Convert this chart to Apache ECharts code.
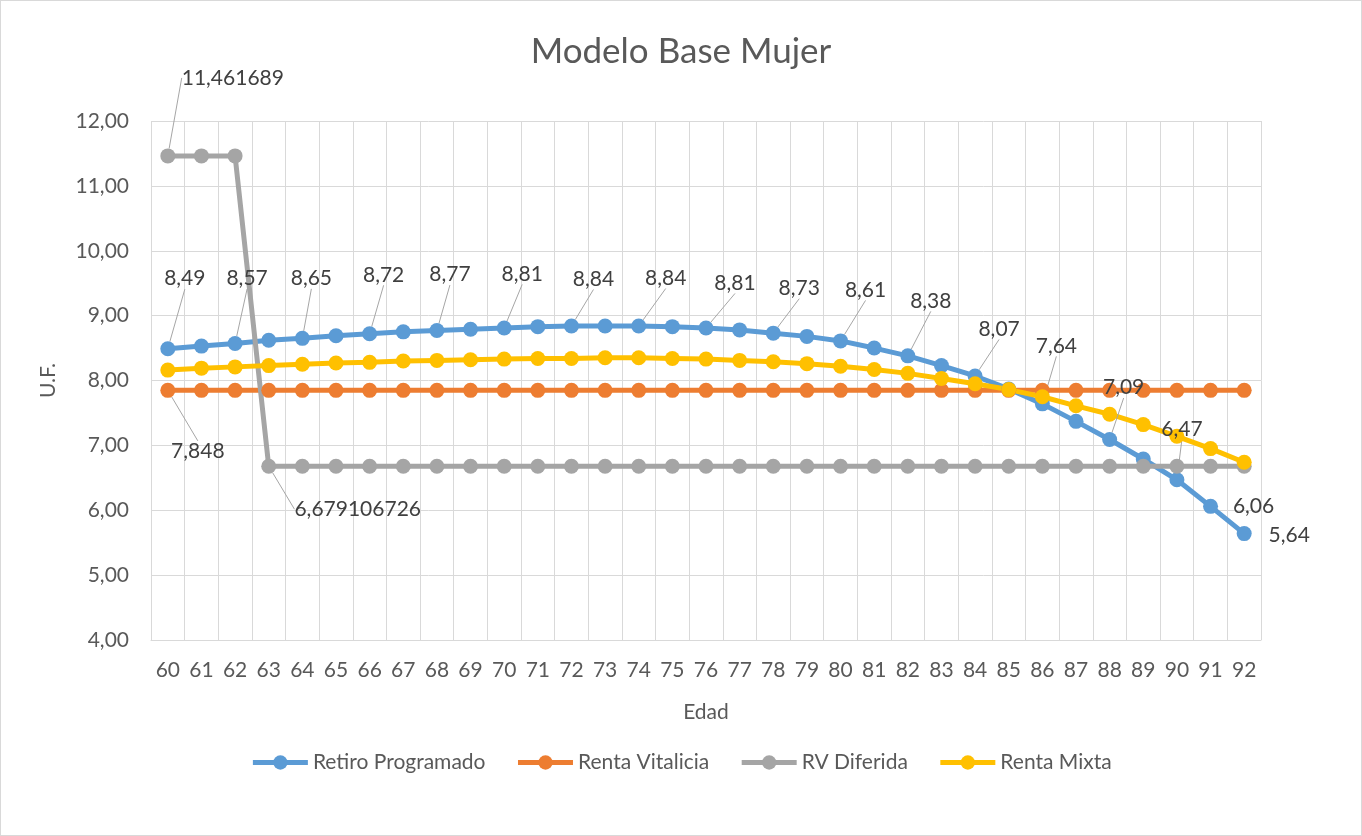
<!DOCTYPE html>
<html>
<head>
<meta charset="utf-8">
<title>Modelo Base Mujer</title>
<script src="https://cdn.jsdelivr.net/npm/echarts@6/dist/echarts.min.js"></script>
<style>
  html, body { margin: 0; padding: 0; background: #ffffff; }
  #main { width: 1362px; height: 836px; box-sizing: border-box; border: 1px solid #d9d9d9; }
</style>
</head>
<body>
<div id="main"></div>
<script>
// Edad (eje X)
var edad = ['60', '61', '62', '63', '64', '65', '66', '67', '68', '69', '70', '71', '72', '73', '74', '75', '76',
  '77', '78', '79', '80', '81', '82', '83', '84', '85', '86', '87', '88', '89', '90', '91', '92'];

// valores en U.F.
var retiroProgramado = [8.49, 8.53, 8.57, 8.62, 8.65, 8.69, 8.72, 8.75, 8.77, 8.79, 8.81, 8.83, 8.84, 8.84, 8.84, 8.83, 8.81,
  8.78, 8.73, 8.68, 8.61, 8.50, 8.38, 8.23, 8.07, 7.87, 7.64, 7.37, 7.09, 6.79, 6.47, 6.06, 5.64];
var rentaVitalicia = [7.848, 7.848, 7.848, 7.848, 7.848, 7.848, 7.848, 7.848, 7.848, 7.848, 7.848, 7.848, 7.848, 7.848, 7.848, 7.848, 7.848,
  7.848, 7.848, 7.848, 7.848, 7.848, 7.848, 7.848, 7.848, 7.848, 7.848, 7.848, 7.848, 7.848, 7.848, 7.848, 7.848];
var rvDiferida = [11.461689, 11.461689, 11.461689, 6.679106726, 6.679106726, 6.679106726, 6.679106726, 6.679106726, 6.679106726,
  6.679106726, 6.679106726, 6.679106726, 6.679106726, 6.679106726, 6.679106726, 6.679106726, 6.679106726, 6.679106726,
  6.679106726, 6.679106726, 6.679106726, 6.679106726, 6.679106726, 6.679106726, 6.679106726, 6.679106726, 6.679106726,
  6.679106726, 6.679106726, 6.679106726, 6.679106726, 6.679106726, 6.679106726];
var rentaMixta = [8.16, 8.19, 8.21, 8.23, 8.25, 8.27, 8.28, 8.30, 8.31, 8.32, 8.33, 8.34, 8.34, 8.35, 8.35, 8.34, 8.33,
  8.31, 8.29, 8.26, 8.22, 8.17, 8.11, 8.03, 7.95, 7.86, 7.75, 7.61, 7.48, 7.32, 7.14, 6.95, 6.74];

var nombres = ['Retiro Programado', 'Renta Vitalicia', 'RV Diferida', 'Renta Mixta'];
var colores = ['#5b9bd5', '#ed7d31', '#a5a5a5', '#ffc000'];

// posicion de las etiquetas respecto al punto: [dx, dy, conLinea]
var etiquetas = [
  { 0: [17, -70], 2: [12, -65], 4: [9, -60], 6: [14, -59], 8: [13, -56], 10: [18, -54], 12: [22, -47], 14: [27, -48],
    16: [29, -45], 18: [26, -45], 20: [25, -51], 22: [23, -55], 24: [24, -47], 26: [14, -58], 28: [14, -52],
    30: [5, -51], 31: [43, 0, false], 32: [45, 2, false] },
  { 0: [30, 61] },
  { 0: [65, -78], 3: [89, 43] },
  {}
];

var fuente = 'Lato, "Open Sans", sans-serif';

function coma(v) {
  return String(v).replace('.', ',');
}

function armarDatos(valores, marcas) {
  return valores.map(function (v, i) {
    var m = marcas[i];
    if (!m) return v;
    return { value: v, label: { show: true }, labelLine: { show: m[2] !== false } };
  });
}

var chart = echarts.init(document.getElementById('main'));

var series = [retiroProgramado, rentaVitalicia, rvDiferida, rentaMixta].map(function (valores, k) {
  return {
    name: nombres[k],
    type: 'line',
    data: armarDatos(valores, etiquetas[k]),
    symbol: 'circle',
    symbolSize: 15,
    color: colores[k],
    lineStyle: { width: 5, color: colores[k] },
    itemStyle: { color: colores[k] },
    label: {
      show: false,
      fontFamily: fuente,
      fontSize: 21,
      color: '#404040',
      formatter: function (p) { return coma(p.value); }
    },
    labelLine: { show: true, lineStyle: { color: '#a6a6a6', width: 1 } },
    labelLayout: function (p) {
      var off = etiquetas[p.seriesIndex][p.dataIndex];
      if (!off) return {};
      return {
        x: p.rect.x + p.rect.width / 2 + off[0],
        y: p.rect.y + p.rect.height / 2 + off[1],
        align: 'center',
        verticalAlign: 'middle'
      };
    }
  };
});

chart.setOption({
  animation: false,
  backgroundColor: '#ffffff',
  title: {
    text: 'Modelo Base Mujer',
    left: 'center',
    top: 28,
    textStyle: { fontFamily: fuente, fontSize: 35, fontWeight: 'normal', color: '#595959' }
  },
  legend: {
    data: nombres,
    left: 'center',
    top: 746,
    itemWidth: 55,
    itemHeight: 18,
    itemGap: 30,
    lineStyle: { width: 5 },
    textStyle: { fontFamily: fuente, fontSize: 21, color: '#595959' }
  },
  grid: { left: 150, right: 100, top: 120, bottom: 195 },
  xAxis: {
    type: 'category',
    data: edad,
    boundaryGap: true,
    name: 'Edad',
    nameLocation: 'middle',
    nameGap: 62,
    nameTextStyle: { fontFamily: fuente, fontSize: 21, color: '#595959' },
    axisTick: { show: false },
    axisLine: { lineStyle: { color: '#d9d9d9' } },
    splitLine: { show: true, lineStyle: { color: '#d9d9d9' } },
    axisLabel: { interval: 0, margin: 20, fontFamily: fuente, fontSize: 21, color: '#595959' }
  },
  yAxis: {
    type: 'value',
    min: 4,
    max: 12,
    interval: 1,
    name: 'U.F.',
    nameLocation: 'middle',
    nameRotate: 90,
    nameGap: 92,
    nameTextStyle: { fontFamily: fuente, fontSize: 21, color: '#595959' },
    axisLine: { show: false },
    axisTick: { show: false },
    splitLine: { lineStyle: { color: '#d9d9d9' } },
    axisLabel: {
      margin: 22,
      fontFamily: fuente,
      fontSize: 21,
      color: '#595959',
      formatter: function (v) { return v.toFixed(2).replace('.', ','); }
    }
  },
  series: series
});
</script>
</body>
</html>
